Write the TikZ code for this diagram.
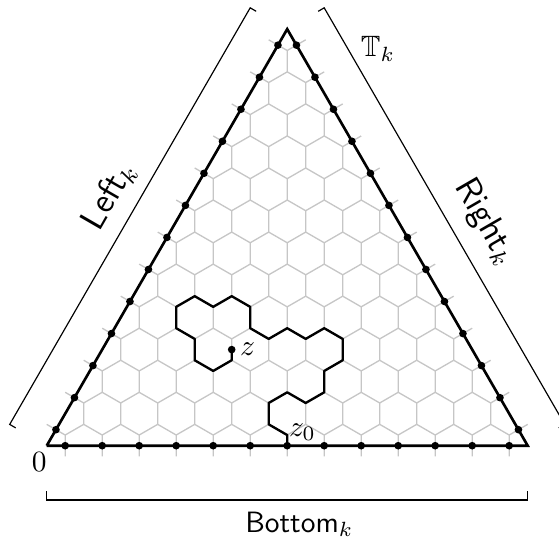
\documentclass[tikz,border=0pt]{standalone}
\usepackage{amssymb}
\usetikzlibrary{calc}
\begin{document}
\begin{tikzpicture}[x=0.34pt,y=-0.34pt,
  lattice/.style={gray!45, line width=0.45pt},
  border/.style={black, line width=0.9pt, line join=miter},
  walk/.style={black, line width=0.8pt, line join=round},
  bdot/.style={circle, fill=black, inner sep=0pt, minimum size=2.6pt},
  brk/.style={black, line width=0.4pt},
  lbl/.style={inner sep=0pt},
  side/.style={inner sep=0pt, font=\large}]
\useasboundingbox (0,0) rectangle (559,537);
\begin{scope}[shift={(46.7,445.7)}, x=12.58pt, y=3.6316pt]
  % hexagonal lattice (one Y per upward triangle of hex centres)
  \foreach \j in {0,...,12}{
    \pgfmathtruncatemacro\imax{12-\j}
    \foreach \i in {0,...,\imax}{
      \coordinate (c) at ({\i+\j/2+0.5},{3*\j+1});
      \draw[lattice] (c) -- ++(0,-2) (c) -- ++(-0.5,1) (c) -- ++(0.5,1);
    }
  }
  \coordinate (A) at (0,0);
  \coordinate (B) at (13,0);
  \coordinate (C) at (6.5,39);
  \draw[border] (A) -- (B) -- (C) -- (A);
  % boundary points
  \foreach \i in {0,...,12}{
    \node[bdot] (b\i) at ({\i+0.5},0) {};
    \node[bdot] (l\i) at ({\i/2+0.25},{3*\i+1.5}) {};
    \node[bdot] (r\i) at ({12.75-\i/2},{3*\i+1.5}) {};
  }
  \node[bdot] (z) at (5,9) {};
  \draw[walk] (b6.center) -- (6.5,1) -- (6,2) -- (6,4) -- (6.5,5) -- (7,4) -- (7.5,5)
    -- (7.5,7) -- (8,8) -- (8,10) -- (7.5,11) -- (7,10) -- (6.5,11) -- (6,10)
    -- (5.5,11) -- (5.5,13) -- (5,14) -- (4.5,13) -- (4,14) -- (3.5,13) -- (3.5,11)
    -- (4,10) -- (4,8) -- (4.5,7) -- (5,8) -- (z.center);
\end{scope}
% brackets
\coordinate (LB1) at (9.7,424.4);
\coordinate (LB2) at (250.2,7.8);
\coordinate (RB1) at (564.7,424.4);
\coordinate (RB2) at (324.2,7.8);
\coordinate (BB1) at (46.7,500);
\coordinate (BB2) at (527.7,500);
\draw[brk] ($(LB1)+(6,3.5)$) -- (LB1) -- (LB2) -- ($(LB2)+(6,3.5)$);
\draw[brk] ($(RB1)+(-6,3.5)$) -- (RB1) -- (RB2) -- ($(RB2)+(-6,3.5)$);
\draw[brk] ($(BB1)+(0,-9)$) -- (BB1) -- (BB2) -- ($(BB2)+(0,-9)$);
% labels
\node[lbl, anchor=base] (bot) at (299.3,532.5) {\textsf{Bottom}$_k$};
\node[side, rotate=60] (left) at (109,196) {\textsf{Left}$_k$};
\node[side, rotate=-60] (right) at (485,222) {\textsf{Right}$_k$};
\node[lbl] (tk) at (378,49) {$\mathbb{T}_k$};
\node[lbl] (zero) at (39.3,462) {$0$};
\node[lbl] (zl) at (247.5,349) {$z$};
\node[lbl] (z0l) at (302.5,432) {$z_0$};
\end{tikzpicture}
\end{document}
